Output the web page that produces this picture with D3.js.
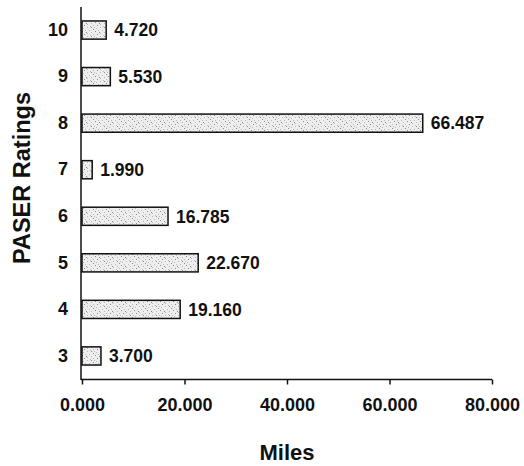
<!DOCTYPE html>
<html><head><meta charset="utf-8">
<script src="https://cdn.jsdelivr.net/npm/d3@7"></script>
<style>body{margin:0;background:#fff}svg{display:block}text{font-family:"Liberation Sans",Arial,sans-serif;font-weight:bold;fill:#111}</style>
</head><body>
<script>
const categories = ["10","9","8","7","6","5","4","3"];
const miles = [4.720, 5.530, 66.487, 1.990, 16.785, 22.670, 19.160, 3.700];
const valueLabels = ["4.720","5.530","66.487","1.990","16.785","22.670","19.160","3.700"];
const xTicks = [0, 20, 40, 60, 80];
const xTickLabels = ["0.000","20.000","40.000","60.000","80.000"];

const W = 524, H = 466;
const svg = d3.select("body").append("svg").attr("width", W).attr("height", H);

const defs = svg.append("defs");
const pat = defs.append("pattern").attr("id","stip").attr("patternUnits","userSpaceOnUse")
  .attr("width",13).attr("height",9);
pat.append("rect").attr("width",13).attr("height",9).attr("fill","#eeeeee");
const dots = [[0,0],[5,1],[9,0],[2,2],[11,3],[7,3],[4,4],[0,5],[9,6],[6,7],[2,7],[12,8],[8,5],[3,0]];
dots.forEach(([a,b],i)=>{
  pat.append("rect").attr("x",a).attr("y",b).attr("width",1).attr("height",1)
    .attr("fill", i%3===0 ? "#8a8a8a" : "#b8b8b8");
});

const x = d3.scaleLinear().domain([0, 80]).range([82, 492]);
const y = d3.scaleBand().domain(categories).range([7, 379]).paddingInner(0.61).paddingOuter(0.3);

// bars
svg.selectAll("rect.bar").data(categories).join("rect").attr("class","bar")
  .attr("x", x(0)).attr("y", d => y(d))
  .attr("width", (d,i) => x(miles[i]) - x(0)).attr("height", y.bandwidth())
  .attr("fill","url(#stip)").attr("stroke","#111").attr("stroke-width",1.5);

// value labels
svg.selectAll("text.val").data(categories).join("text").attr("class","val")
  .attr("x", (d,i) => x(miles[i]) + 8).attr("y", d => y(d) + y.bandwidth()/2)
  .attr("dy","0.36em").attr("font-size",17.5).text((d,i) => valueLabels[i]);

// y axis
const yAxis = svg.append("g").attr("transform","translate(81,0)")
  .call(d3.axisLeft(y).tickSize(0).tickPadding(13));
yAxis.select(".domain").attr("d","M0,7V380").attr("stroke","#111").attr("stroke-width",1.5);
yAxis.selectAll("text").attr("font-size",18).attr("font-family",null).attr("fill","#111");

// x axis
const xAxis = svg.append("g").attr("transform","translate(0,379.5)")
  .call(d3.axisBottom(x).tickValues(xTicks).tickFormat((d,i)=>xTickLabels[i]).tickSizeOuter(0).tickSize(5).tickPadding(14));
xAxis.select(".domain").attr("d","M81,0H492").attr("stroke","#111").attr("stroke-width",1.5);
xAxis.selectAll(".tick line").attr("stroke","#111").attr("stroke-width",1.5);
xAxis.selectAll("text").attr("font-size",18).attr("font-family",null).attr("fill","#111");

// titles
svg.append("text").attr("x",287).attr("y",460).attr("text-anchor","middle").attr("font-size",22).text("Miles");
svg.append("text").attr("transform","translate(30,178) rotate(-90)").attr("text-anchor","middle")
  .attr("font-size",23.5).text("PASER Ratings");
</script>
</body></html>
